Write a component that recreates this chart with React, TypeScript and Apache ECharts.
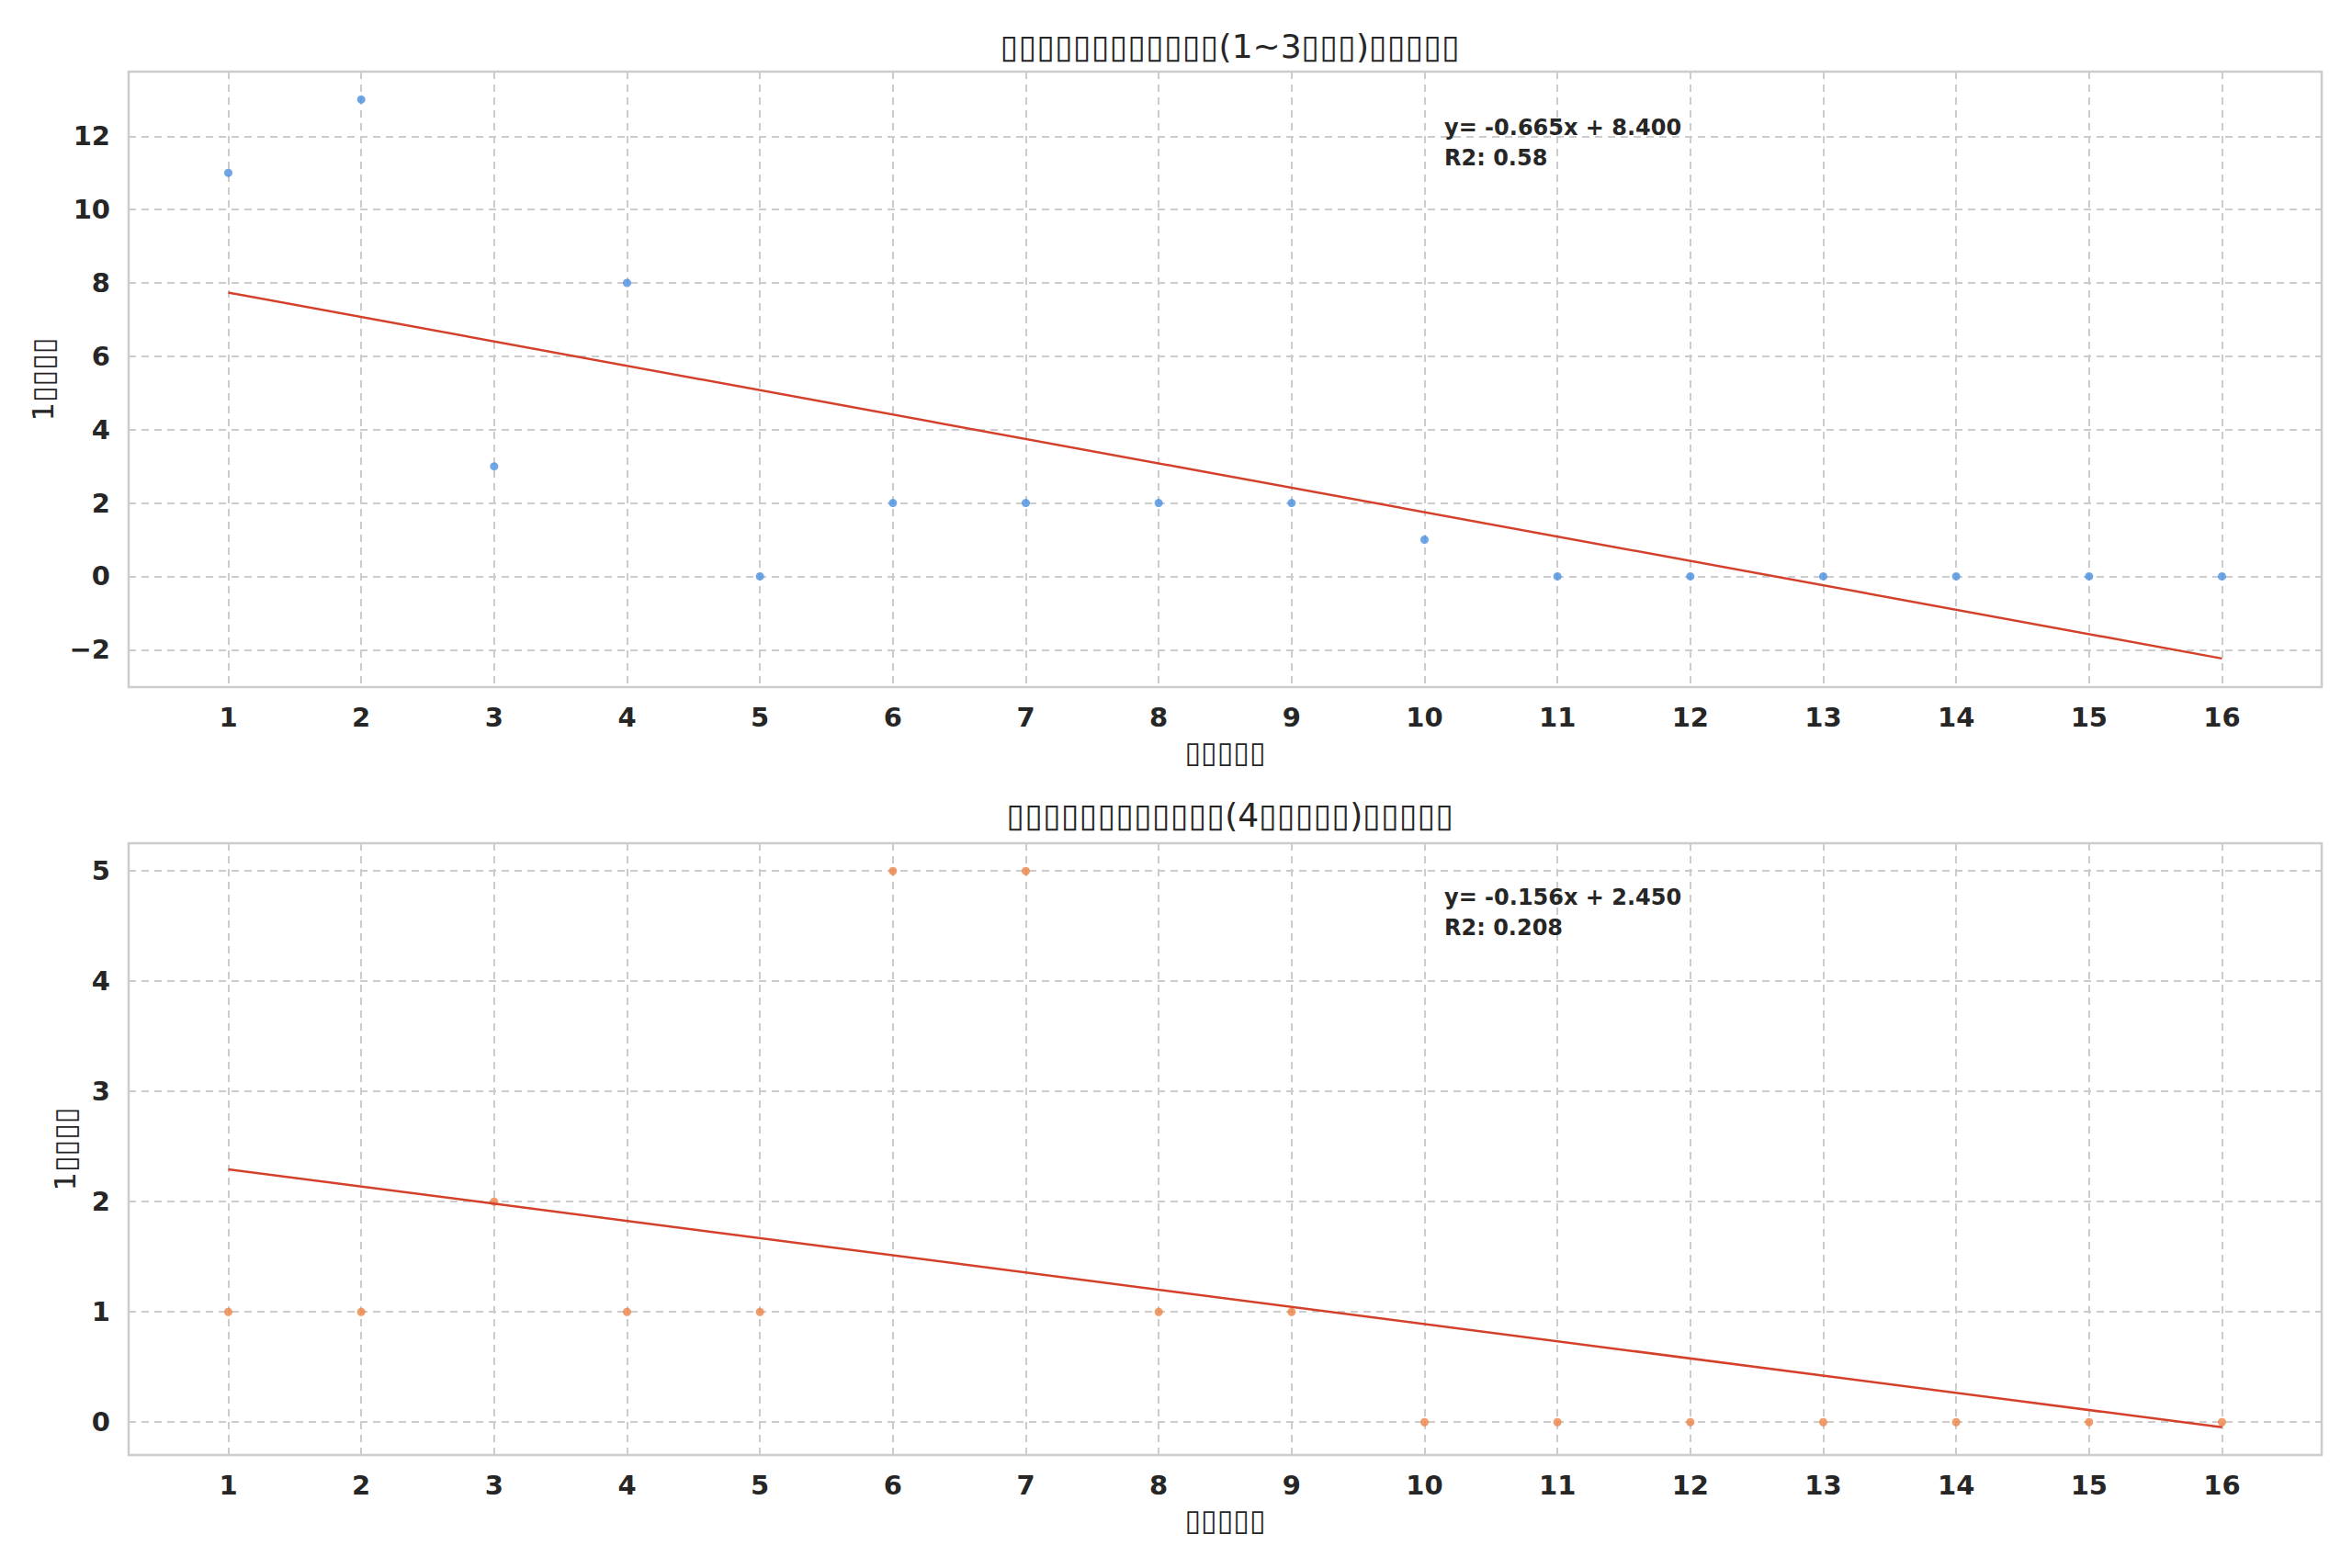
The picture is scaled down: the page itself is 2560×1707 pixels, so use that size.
import React, { useEffect, useRef } from "react";
import * as echarts from "echarts";

// ---- data ----
const xCats = [1, 2, 3, 4, 5, 6, 7, 8, 9, 10, 11, 12, 13, 14, 15, 16];
const topValues = [11, 13, 3, 8, 0, 2, 2, 2, 2, 1, 0, 0, 0, 0, 0, 0];
const bottomValues = [1, 1, 2, 1, 1, 5, 5, 1, 1, 0, 0, 0, 0, 0, 0, 0];
const topFitEnds = [7.735, -2.24];
const bottomFitEnds = [2.294, -0.046];
const fitX = [1, 16];
const topTicks = [-2, 0, 2, 4, 6, 8, 10, 12];
const bottomTicks = [0, 1, 2, 3, 4, 5];
const topTitle = "▯▯▯▯▯▯▯▯▯▯▯▯(1~3▯▯▯)▯▯▯▯▯";
const bottomTitle = "▯▯▯▯▯▯▯▯▯▯▯▯(4▯▯▯▯▯)▯▯▯▯▯";
const xName = "▯▯▯▯▯";
const yName = "1▯▯▯▯";
const topNote = ["y= -0.665x + 8.400", "R2: 0.58"];
const bottomNote = ["y= -0.156x + 2.450", "R2: 0.208"];

const FONT = "DejaVu Sans";
const DARK = "#262626";
const GRID = "#cccccc";

const fmt = (v: number) => (v < 0 ? "\u2212" + Math.abs(v) : String(v));

export default function App() {
  const ref = useRef<HTMLDivElement>(null);
  useEffect(() => {
    document.body.style.margin = "0";
    const chart = echarts.init(ref.current!, null, { renderer: "svg" });
    const L = 140, W = 2387;
    const grids = [
      { left: L, top: 78, width: W, height: 670 },
      { left: L, top: 918, width: W, height: 666 },
    ];
    const mkX = (gi: number) => ({
      type: "value",
      gridIndex: gi,
      min: 0.25,
      max: 16.75,
      name: xName,
      nameLocation: "middle",
      nameGap: 55,
      nameTextStyle: { fontFamily: FONT, fontSize: 32, color: DARK },
      axisLine: { show: false },
      axisTick: { show: false, customValues: xCats },
      axisLabel: {
        customValues: xCats,
        fontFamily: FONT,
        fontSize: 29,
        fontWeight: "bold",
        color: DARK,
        margin: 18,
      },
      splitLine: { show: true, lineStyle: { color: GRID, type: [8, 6], width: 2 } },
    });
    const mkY = (gi: number, min: number, max: number, ticks: number[], gap: number) => ({
      type: "value",
      gridIndex: gi,
      min,
      max,
      name: yName,
      nameLocation: "middle",
      nameGap: gap,
      nameRotate: 90,
      nameTextStyle: { fontFamily: FONT, fontSize: 32, color: DARK },
      axisLine: { show: false },
      axisTick: { show: false, customValues: ticks },
      axisLabel: {
        customValues: ticks,
        fontFamily: FONT,
        fontSize: 29,
        fontWeight: "bold",
        color: DARK,
        margin: 20,
        formatter: (v: number) => fmt(v),
      },
      splitLine: { show: true, lineStyle: { color: GRID, type: [8, 6], width: 2 } },
    });
    const noteText = (x: number, y: number, lines: string[]) => ({
      type: "text",
      x,
      y,
      z: 100,
      style: {
        text: lines.join("\n"),
        fontFamily: FONT,
        fontSize: 24,
        fontWeight: "bold",
        fill: DARK,
        lineHeight: 33,
        textVerticalAlign: "top",
      },
    });
    chart.setOption({
      animation: false,
      backgroundColor: "#ffffff",
      title: [
        {
          text: topTitle,
          left: 1334,
          top: 27,
          textAlign: "center",
          textStyle: { fontFamily: FONT, fontSize: 36, fontWeight: "normal", color: DARK },
        },
        {
          text: bottomTitle,
          left: 1334,
          top: 864,
          textAlign: "center",
          textStyle: { fontFamily: FONT, fontSize: 36, fontWeight: "normal", color: DARK },
        },
      ],
      grid: grids.map((g) => ({ ...g, show: true, borderColor: GRID, borderWidth: 2.5, backgroundColor: "transparent" })),
      xAxis: [mkX(0), mkX(1)],
      yAxis: [
        mkY(0, -3.02, 13.76, topTicks, 77),
        mkY(1, -0.298, 5.252, bottomTicks, 53),
      ],
      series: [
        {
          type: "scatter",
          xAxisIndex: 0,
          yAxisIndex: 0,
          symbolSize: 9,
          itemStyle: { color: "#4a90e2" },
          data: xCats.map((x, i) => [x, topValues[i]]),
          z: 3,
        },
        {
          type: "line",
          xAxisIndex: 0,
          yAxisIndex: 0,
          symbol: "none",
          lineStyle: { color: "#d5402b", width: 2.5 },
          data: fitX.map((x, i) => [x, topFitEnds[i]]),
          z: 4,
        },
        {
          type: "scatter",
          xAxisIndex: 1,
          yAxisIndex: 1,
          symbolSize: 9,
          itemStyle: { color: "#ee8446" },
          data: xCats.map((x, i) => [x, bottomValues[i]]),
          z: 3,
        },
        {
          type: "line",
          xAxisIndex: 1,
          yAxisIndex: 1,
          symbol: "none",
          lineStyle: { color: "#d5402b", width: 2.5 },
          data: fitX.map((x, i) => [x, bottomFitEnds[i]]),
          z: 4,
        },
      ],
      graphic: [noteText(1572, 122, topNote), noteText(1572, 960, bottomNote)],
    });
    return () => chart.dispose();
  }, []);
  return <div ref={ref} style={{ width: 2560, height: 1707 }} />;
}
